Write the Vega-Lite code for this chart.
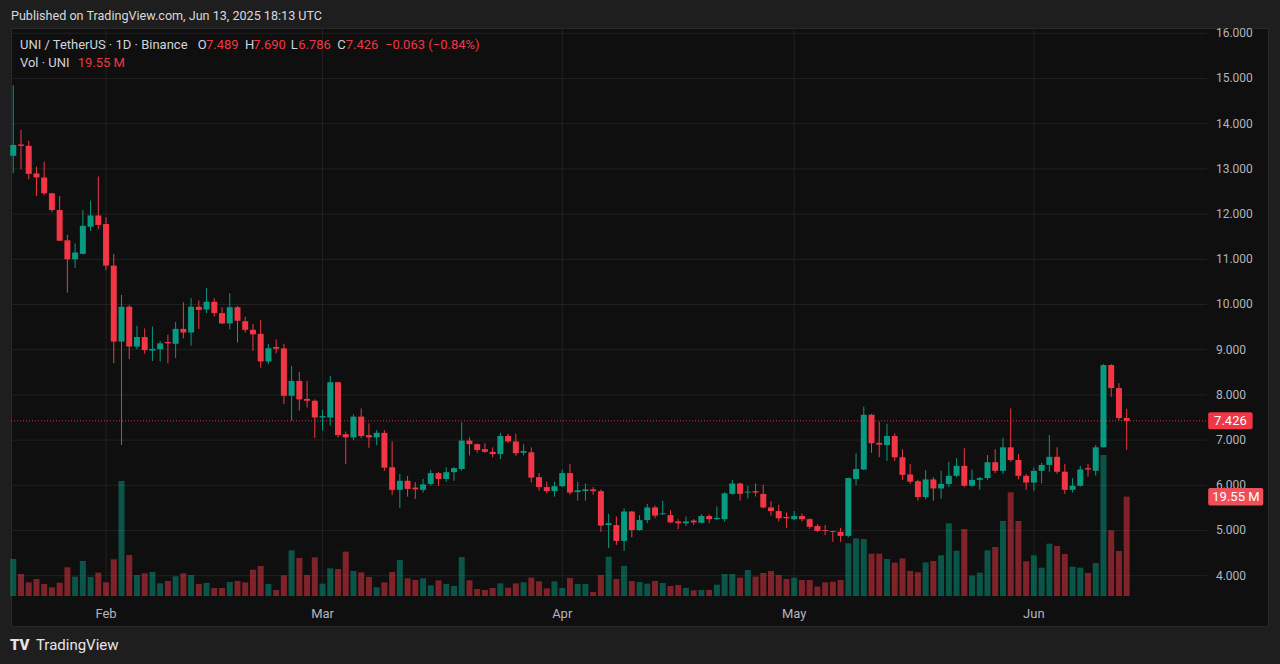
{
"$schema": "https://vega.github.io/schema/vega-lite/v6.json",
"width": 1257,
"height": 598,
"autosize": {"type": "none"},
"padding": {"left": 11, "top": 28, "right": 12, "bottom": 38},
"background": "#1e1e1e",
"config": {"font": "Roboto", "view": {"fill": "#0f0f0f", "stroke": "#2a2a2a", "strokeWidth": 1}, "scale": {"continuousPadding": 0}},
"datasets": {
"uni": [
{"d":"2025-01-20","o":13.29,"h":14.85,"l":12.90,"c":13.53,"v":7.28},
{"d":"2025-01-21","o":13.54,"h":13.86,"l":12.99,"c":13.51,"v":4.33},
{"d":"2025-01-22","o":13.51,"h":13.62,"l":12.77,"c":12.89,"v":2.69},
{"d":"2025-01-23","o":12.90,"h":13.05,"l":12.40,"c":12.81,"v":3.35},
{"d":"2025-01-24","o":12.81,"h":13.16,"l":12.42,"c":12.46,"v":2.36},
{"d":"2025-01-25","o":12.46,"h":12.47,"l":12.04,"c":12.09,"v":1.71},
{"d":"2025-01-26","o":12.09,"h":12.40,"l":11.41,"c":11.41,"v":2.62},
{"d":"2025-01-27","o":11.42,"h":11.54,"l":10.26,"c":11.00,"v":5.64},
{"d":"2025-01-28","o":11.00,"h":11.35,"l":10.81,"c":11.15,"v":3.81},
{"d":"2025-01-29","o":11.12,"h":12.09,"l":11.11,"c":11.74,"v":6.89},
{"d":"2025-01-30","o":11.72,"h":12.30,"l":11.63,"c":11.97,"v":3.74},
{"d":"2025-01-31","o":11.97,"h":12.83,"l":11.66,"c":11.76,"v":4.59},
{"d":"2025-02-01","o":11.78,"h":11.93,"l":10.76,"c":10.86,"v":2.69},
{"d":"2025-02-02","o":10.86,"h":11.12,"l":8.70,"c":9.18,"v":7.22},
{"d":"2025-02-03","o":9.18,"h":10.21,"l":6.89,"c":9.95,"v":22.64},
{"d":"2025-02-04","o":9.95,"h":9.99,"l":8.79,"c":9.07,"v":8.07},
{"d":"2025-02-05","o":9.07,"h":9.53,"l":9.01,"c":9.28,"v":4.13},
{"d":"2025-02-06","o":9.28,"h":9.47,"l":8.91,"c":8.99,"v":4.46},
{"d":"2025-02-07","o":8.98,"h":9.51,"l":8.75,"c":9.02,"v":4.72},
{"d":"2025-02-08","o":9.01,"h":9.19,"l":8.74,"c":9.14,"v":2.49},
{"d":"2025-02-09","o":9.17,"h":9.33,"l":8.70,"c":9.14,"v":2.95},
{"d":"2025-02-10","o":9.13,"h":9.61,"l":8.82,"c":9.46,"v":3.87},
{"d":"2025-02-11","o":9.46,"h":10.05,"l":9.25,"c":9.38,"v":4.46},
{"d":"2025-02-12","o":9.38,"h":10.14,"l":9.09,"c":9.95,"v":4.13},
{"d":"2025-02-13","o":9.95,"h":10.09,"l":9.46,"c":9.88,"v":2.36},
{"d":"2025-02-14","o":9.89,"h":10.36,"l":9.81,"c":10.06,"v":2.56},
{"d":"2025-02-15","o":10.06,"h":10.14,"l":9.73,"c":9.81,"v":1.57},
{"d":"2025-02-16","o":9.81,"h":9.94,"l":9.57,"c":9.58,"v":1.57},
{"d":"2025-02-17","o":9.58,"h":10.25,"l":9.45,"c":9.94,"v":2.76},
{"d":"2025-02-18","o":9.94,"h":9.97,"l":9.16,"c":9.64,"v":2.95},
{"d":"2025-02-19","o":9.63,"h":9.73,"l":9.38,"c":9.44,"v":2.69},
{"d":"2025-02-20","o":9.44,"h":9.57,"l":8.98,"c":9.34,"v":5.18},
{"d":"2025-02-21","o":9.35,"h":9.66,"l":8.60,"c":8.74,"v":5.91},
{"d":"2025-02-22","o":8.74,"h":9.13,"l":8.68,"c":9.03,"v":2.36},
{"d":"2025-02-23","o":9.06,"h":9.23,"l":8.92,"c":9.02,"v":1.18},
{"d":"2025-02-24","o":9.03,"h":9.13,"l":7.80,"c":7.98,"v":4.07},
{"d":"2025-02-25","o":7.98,"h":8.64,"l":7.43,"c":8.31,"v":9.00},
{"d":"2025-02-26","o":8.31,"h":8.51,"l":7.65,"c":7.90,"v":7.48},
{"d":"2025-02-27","o":7.91,"h":8.31,"l":7.72,"c":7.87,"v":4.13},
{"d":"2025-02-28","o":7.87,"h":7.90,"l":7.05,"c":7.50,"v":7.61},
{"d":"2025-03-01","o":7.50,"h":7.67,"l":7.21,"c":7.53,"v":2.43},
{"d":"2025-03-02","o":7.50,"h":8.42,"l":7.32,"c":8.28,"v":5.45},
{"d":"2025-03-03","o":8.28,"h":8.29,"l":7.06,"c":7.11,"v":5.31},
{"d":"2025-03-04","o":7.13,"h":7.19,"l":6.47,"c":7.06,"v":8.73},
{"d":"2025-03-05","o":7.06,"h":7.57,"l":7.00,"c":7.52,"v":4.92},
{"d":"2025-03-06","o":7.52,"h":7.70,"l":7.04,"c":7.09,"v":4.66},
{"d":"2025-03-07","o":7.11,"h":7.37,"l":6.83,"c":7.06,"v":3.74},
{"d":"2025-03-08","o":7.06,"h":7.22,"l":6.89,"c":7.16,"v":1.71},
{"d":"2025-03-09","o":7.16,"h":7.22,"l":6.32,"c":6.39,"v":2.69},
{"d":"2025-03-10","o":6.40,"h":6.97,"l":5.79,"c":5.90,"v":4.72},
{"d":"2025-03-11","o":5.90,"h":6.25,"l":5.50,"c":6.10,"v":7.09},
{"d":"2025-03-12","o":6.10,"h":6.21,"l":5.75,"c":5.92,"v":3.48},
{"d":"2025-03-13","o":5.95,"h":6.07,"l":5.70,"c":5.91,"v":3.15},
{"d":"2025-03-14","o":5.90,"h":6.14,"l":5.84,"c":6.02,"v":3.48},
{"d":"2025-03-15","o":6.03,"h":6.34,"l":5.99,"c":6.27,"v":2.10},
{"d":"2025-03-16","o":6.27,"h":6.30,"l":5.99,"c":6.14,"v":3.08},
{"d":"2025-03-17","o":6.14,"h":6.40,"l":6.08,"c":6.29,"v":2.36},
{"d":"2025-03-18","o":6.29,"h":6.40,"l":6.10,"c":6.38,"v":1.97},
{"d":"2025-03-19","o":6.36,"h":7.39,"l":6.32,"c":6.99,"v":7.68},
{"d":"2025-03-20","o":6.99,"h":7.06,"l":6.66,"c":6.91,"v":3.08},
{"d":"2025-03-21","o":6.91,"h":6.93,"l":6.72,"c":6.78,"v":1.38},
{"d":"2025-03-22","o":6.80,"h":6.93,"l":6.72,"c":6.74,"v":1.18},
{"d":"2025-03-23","o":6.74,"h":6.84,"l":6.62,"c":6.69,"v":1.57},
{"d":"2025-03-24","o":6.69,"h":7.16,"l":6.58,"c":7.09,"v":2.49},
{"d":"2025-03-25","o":7.09,"h":7.14,"l":6.94,"c":6.97,"v":1.64},
{"d":"2025-03-26","o":6.97,"h":7.14,"l":6.65,"c":6.71,"v":2.49},
{"d":"2025-03-27","o":6.72,"h":6.91,"l":6.66,"c":6.76,"v":2.69},
{"d":"2025-03-28","o":6.73,"h":6.84,"l":6.06,"c":6.17,"v":3.61},
{"d":"2025-03-29","o":6.18,"h":6.27,"l":5.88,"c":5.96,"v":2.89},
{"d":"2025-03-30","o":5.96,"h":6.08,"l":5.82,"c":5.87,"v":1.51},
{"d":"2025-03-31","o":5.87,"h":6.08,"l":5.75,"c":5.98,"v":2.89},
{"d":"2025-04-01","o":5.98,"h":6.35,"l":5.96,"c":6.27,"v":1.57},
{"d":"2025-04-02","o":6.27,"h":6.47,"l":5.79,"c":5.84,"v":3.54},
{"d":"2025-04-03","o":5.85,"h":6.08,"l":5.66,"c":5.89,"v":2.36},
{"d":"2025-04-04","o":5.87,"h":6.04,"l":5.66,"c":5.91,"v":2.36},
{"d":"2025-04-05","o":5.91,"h":5.96,"l":5.79,"c":5.87,"v":0.79},
{"d":"2025-04-06","o":5.87,"h":5.91,"l":4.97,"c":5.11,"v":4.13},
{"d":"2025-04-07","o":5.12,"h":5.37,"l":4.61,"c":5.16,"v":7.74},
{"d":"2025-04-08","o":5.12,"h":5.31,"l":4.68,"c":4.77,"v":3.35},
{"d":"2025-04-09","o":4.77,"h":5.49,"l":4.55,"c":5.42,"v":5.91},
{"d":"2025-04-10","o":5.42,"h":5.43,"l":4.85,"c":5.01,"v":2.95},
{"d":"2025-04-11","o":5.01,"h":5.34,"l":4.99,"c":5.23,"v":2.76},
{"d":"2025-04-12","o":5.23,"h":5.59,"l":5.16,"c":5.51,"v":2.43},
{"d":"2025-04-13","o":5.51,"h":5.55,"l":5.27,"c":5.33,"v":2.95},
{"d":"2025-04-14","o":5.36,"h":5.66,"l":5.34,"c":5.38,"v":2.56},
{"d":"2025-04-15","o":5.34,"h":5.45,"l":5.16,"c":5.18,"v":1.97},
{"d":"2025-04-16","o":5.20,"h":5.25,"l":5.03,"c":5.16,"v":2.17},
{"d":"2025-04-17","o":5.16,"h":5.31,"l":5.10,"c":5.20,"v":1.57},
{"d":"2025-04-18","o":5.22,"h":5.25,"l":5.12,"c":5.18,"v":1.12},
{"d":"2025-04-19","o":5.17,"h":5.36,"l":5.16,"c":5.32,"v":1.18},
{"d":"2025-04-20","o":5.32,"h":5.36,"l":5.16,"c":5.25,"v":1.18},
{"d":"2025-04-21","o":5.25,"h":5.53,"l":5.23,"c":5.28,"v":2.23},
{"d":"2025-04-22","o":5.25,"h":5.85,"l":5.20,"c":5.82,"v":4.33},
{"d":"2025-04-23","o":5.81,"h":6.12,"l":5.79,"c":6.04,"v":4.33},
{"d":"2025-04-24","o":6.04,"h":6.06,"l":5.66,"c":5.81,"v":3.61},
{"d":"2025-04-25","o":5.84,"h":5.99,"l":5.71,"c":5.86,"v":5.12},
{"d":"2025-04-26","o":5.87,"h":6.04,"l":5.75,"c":5.84,"v":3.81},
{"d":"2025-04-27","o":5.81,"h":6.01,"l":5.49,"c":5.51,"v":4.53},
{"d":"2025-04-28","o":5.51,"h":5.65,"l":5.33,"c":5.43,"v":4.92},
{"d":"2025-04-29","o":5.43,"h":5.57,"l":5.20,"c":5.27,"v":4.13},
{"d":"2025-04-30","o":5.30,"h":5.40,"l":5.06,"c":5.27,"v":3.35},
{"d":"2025-05-01","o":5.25,"h":5.43,"l":5.23,"c":5.32,"v":3.61},
{"d":"2025-05-02","o":5.32,"h":5.38,"l":5.20,"c":5.25,"v":3.15},
{"d":"2025-05-03","o":5.25,"h":5.27,"l":5.03,"c":5.08,"v":3.15},
{"d":"2025-05-04","o":5.10,"h":5.14,"l":4.97,"c":4.99,"v":1.84},
{"d":"2025-05-05","o":5.01,"h":5.12,"l":4.90,"c":4.99,"v":2.69},
{"d":"2025-05-06","o":4.99,"h":4.99,"l":4.75,"c":4.97,"v":2.82},
{"d":"2025-05-07","o":4.97,"h":5.06,"l":4.75,"c":4.88,"v":3.15},
{"d":"2025-05-08","o":4.88,"h":6.17,"l":4.85,"c":6.16,"v":10.37},
{"d":"2025-05-09","o":6.14,"h":6.71,"l":6.01,"c":6.36,"v":11.35},
{"d":"2025-05-10","o":6.35,"h":7.74,"l":6.34,"c":7.56,"v":11.22},
{"d":"2025-05-11","o":7.56,"h":7.58,"l":6.72,"c":6.93,"v":8.33},
{"d":"2025-05-12","o":6.94,"h":7.41,"l":6.62,"c":6.90,"v":8.33},
{"d":"2025-05-13","o":6.89,"h":7.36,"l":6.54,"c":7.09,"v":7.28},
{"d":"2025-05-14","o":7.09,"h":7.15,"l":6.54,"c":6.62,"v":6.56},
{"d":"2025-05-15","o":6.62,"h":6.80,"l":6.12,"c":6.23,"v":7.41},
{"d":"2025-05-16","o":6.24,"h":6.47,"l":6.03,"c":6.08,"v":4.92},
{"d":"2025-05-17","o":6.09,"h":6.12,"l":5.66,"c":5.74,"v":4.66},
{"d":"2025-05-18","o":5.74,"h":6.34,"l":5.69,"c":6.13,"v":6.63},
{"d":"2025-05-19","o":6.13,"h":6.18,"l":5.66,"c":5.93,"v":6.89},
{"d":"2025-05-20","o":5.93,"h":6.32,"l":5.70,"c":6.03,"v":8.01},
{"d":"2025-05-21","o":6.03,"h":6.52,"l":5.96,"c":6.21,"v":14.30},
{"d":"2025-05-22","o":6.21,"h":6.60,"l":6.18,"c":6.43,"v":8.92},
{"d":"2025-05-23","o":6.43,"h":6.82,"l":5.96,"c":5.99,"v":13.19},
{"d":"2025-05-24","o":5.99,"h":6.35,"l":5.96,"c":6.12,"v":4.00},
{"d":"2025-05-25","o":6.12,"h":6.18,"l":5.90,"c":6.16,"v":4.59},
{"d":"2025-05-26","o":6.16,"h":6.67,"l":6.12,"c":6.51,"v":9.00},
{"d":"2025-05-27","o":6.51,"h":6.80,"l":6.27,"c":6.32,"v":9.65},
{"d":"2025-05-28","o":6.32,"h":7.05,"l":6.25,"c":6.84,"v":14.76},
{"d":"2025-05-29","o":6.84,"h":7.70,"l":6.52,"c":6.56,"v":20.41},
{"d":"2025-05-30","o":6.56,"h":6.69,"l":6.13,"c":6.21,"v":14.76},
{"d":"2025-05-31","o":6.21,"h":6.25,"l":5.90,"c":6.06,"v":6.83},
{"d":"2025-06-01","o":6.06,"h":6.39,"l":5.88,"c":6.32,"v":8.01},
{"d":"2025-06-02","o":6.32,"h":6.50,"l":6.04,"c":6.45,"v":5.58},
{"d":"2025-06-03","o":6.45,"h":7.11,"l":6.30,"c":6.63,"v":10.30},
{"d":"2025-06-04","o":6.63,"h":6.84,"l":6.25,"c":6.30,"v":9.84},
{"d":"2025-06-05","o":6.30,"h":6.47,"l":5.81,"c":5.90,"v":8.27},
{"d":"2025-06-06","o":5.90,"h":6.16,"l":5.84,"c":5.99,"v":5.77},
{"d":"2025-06-07","o":5.99,"h":6.43,"l":5.97,"c":6.35,"v":5.58},
{"d":"2025-06-08","o":6.38,"h":6.47,"l":6.19,"c":6.35,"v":4.53},
{"d":"2025-06-09","o":6.32,"h":6.89,"l":6.21,"c":6.84,"v":6.50},
{"d":"2025-06-10","o":6.84,"h":8.68,"l":6.84,"c":8.66,"v":27.76},
{"d":"2025-06-11","o":8.66,"h":8.68,"l":7.96,"c":8.15,"v":12.93},
{"d":"2025-06-12","o":8.15,"h":8.26,"l":7.44,"c":7.489,"v":8.86},
{"d":"2025-06-13","o":7.489,"h":7.690,"l":6.786,"c":7.426,"v":19.55}
],
"months": [{"d":"2025-02-01"},{"d":"2025-03-01"},{"d":"2025-04-01"},{"d":"2025-05-01"},{"d":"2025-06-01"}],
"levels": [{"p":4},{"p":5},{"p":6},{"p":7},{"p":8},{"p":9},{"p":10},{"p":11},{"p":12},{"p":13},{"p":14},{"p":15},{"p":16}]
},
"layer": [
{
"layer": [
{"data": {"name": "levels"}, "mark": {"type": "rule", "color": "#222222", "strokeWidth": 1},
 "encoding": {
  "x": {"datum": {"year":2025,"month":1,"date":19,"hours":17,"utc":true}, "type": "temporal", "scale": {"type":"utc","nice":false,"domain":[{"year":2025,"month":1,"date":19,"hours":17,"utc":true},{"year":2025,"month":7,"date":1,"hours":6,"minutes":40,"utc":true}]}, "axis": null},
  "x2": {"datum": {"year":2025,"month":6,"date":23,"hours":9,"utc":true}},
  "y": {"field": "p", "type": "quantitative", "scale": {"domain":[2.887,16.117],"zero":false,"nice":false}, "axis": null}}},
{"data": {"name": "months"}, "mark": {"type": "rule", "color": "#222222", "strokeWidth": 1},
 "encoding": {
  "x": {"field": "d", "type": "temporal", "scale": {"type":"utc","nice":false,"domain":[{"year":2025,"month":1,"date":19,"hours":17,"utc":true},{"year":2025,"month":7,"date":1,"hours":6,"minutes":40,"utc":true}]}, "axis": null},
  "y": {"datum": 3.551, "type": "quantitative", "scale": {"domain":[2.887,16.117],"zero":false,"nice":false}, "axis": null},
  "y2": {"datum": 16.117}}},
{"data": {"name": "levels"}, "mark": {"type": "text", "color": "#b2b5be", "fontSize": 12, "align": "left", "baseline": "middle", "dx": 9},
 "encoding": {
  "text": {"field": "p", "type": "quantitative", "format": ".3f"},
  "x": {"datum": {"year":2025,"month":6,"date":23,"hours":9,"utc":true}, "type": "temporal", "scale": {"type":"utc","nice":false,"domain":[{"year":2025,"month":1,"date":19,"hours":17,"utc":true},{"year":2025,"month":7,"date":1,"hours":6,"minutes":40,"utc":true}]}, "axis": null},
  "y": {"field": "p", "type": "quantitative", "scale": {"domain":[2.887,16.117],"zero":false,"nice":false}, "axis": null}}},
{"data": {"name": "months"}, "mark": {"type": "text", "color": "#b2b5be", "fontSize": 13, "align": "center", "baseline": "middle"},
 "encoding": {
  "text": {"field": "d", "type": "temporal", "timeUnit": "utcmonth", "format": "%b"},
  "x": {"field": "d", "type": "temporal", "scale": {"type":"utc","nice":false,"domain":[{"year":2025,"month":1,"date":19,"hours":17,"utc":true},{"year":2025,"month":7,"date":1,"hours":6,"minutes":40,"utc":true}]}, "axis": null},
  "y": {"datum": 3.153, "type": "quantitative", "scale": {"domain":[2.887,16.117],"zero":false,"nice":false}, "axis": null}}},
{"data": {"values": [{}]}, "mark": {"type": "rule", "color": "#f23645", "strokeWidth": 1, "strokeDash": [1, 2], "opacity": 0.9},
 "encoding": {
  "x": {"datum": {"year":2025,"month":1,"date":19,"hours":17,"utc":true}, "type": "temporal", "scale": {"type":"utc","nice":false,"domain":[{"year":2025,"month":1,"date":19,"hours":17,"utc":true},{"year":2025,"month":7,"date":1,"hours":6,"minutes":40,"utc":true}]}, "axis": null},
  "x2": {"datum": {"year":2025,"month":6,"date":23,"hours":13,"utc":true}},
  "y": {"datum": 7.426, "type": "quantitative", "scale": {"domain":[2.887,16.117],"zero":false,"nice":false}, "axis": null}}}
]
},
{
"layer": [
{"data": {"name": "uni"}, "mark": {"type": "bar", "size": 6, "opacity": 0.5},
 "encoding": {
  "x": {"field": "d", "type": "temporal", "scale": {"type":"utc","nice":false,"domain":[{"year":2025,"month":1,"date":19,"hours":17,"utc":true},{"year":2025,"month":7,"date":1,"hours":6,"minutes":40,"utc":true}]}, "axis": null},
  "y": {"field": "v", "type": "quantitative", "scale": {"domain":[-5.906,111.8],"zero":false,"nice":false}, "axis": null},
  "y2": {"datum": 0},
  "color": {"condition": {"test": "datum.c >= datum.o", "value": "#089981"}, "value": "#f23645"}}},
{"data": {"values": [{}]}, "mark": {"type": "rect", "color": "#ef4f5a", "cornerRadius": 2},
 "encoding": {
  "x": {"datum": {"year":2025,"month":6,"date":23,"hours":13,"utc":true}, "type": "temporal", "scale": {"type":"utc","nice":false,"domain":[{"year":2025,"month":1,"date":19,"hours":17,"utc":true},{"year":2025,"month":7,"date":1,"hours":6,"minutes":40,"utc":true}]}, "axis": null},
  "x2": {"datum": {"year":2025,"month":6,"date":30,"hours":16,"utc":true}},
  "y": {"datum": 17.83, "type": "quantitative", "scale": {"domain":[-5.906,111.8],"zero":false,"nice":false}, "axis": null},
  "y2": {"datum": 21.27}}},
{"data": {"values": [{}]}, "mark": {"type": "text", "text": "19.55 M", "color": "#ffffff", "fontSize": 13, "align": "center", "baseline": "middle"},
 "encoding": {
  "x": {"datum": {"year":2025,"month":6,"date":27,"hours":3,"utc":true}, "type": "temporal", "scale": {"type":"utc","nice":false,"domain":[{"year":2025,"month":1,"date":19,"hours":17,"utc":true},{"year":2025,"month":7,"date":1,"hours":6,"minutes":40,"utc":true}]}, "axis": null},
  "y": {"datum": 19.55, "type": "quantitative", "scale": {"domain":[-5.906,111.8],"zero":false,"nice":false}, "axis": null}}}
]
},
{
"layer": [
{"data": {"name": "uni"}, "mark": {"type": "rule", "strokeWidth": 1},
 "encoding": {
  "x": {"field": "d", "type": "temporal", "scale": {"type":"utc","nice":false,"domain":[{"year":2025,"month":1,"date":19,"hours":17,"utc":true},{"year":2025,"month":7,"date":1,"hours":6,"minutes":40,"utc":true}]}, "axis": null},
  "y": {"field": "l", "type": "quantitative", "scale": {"domain":[2.887,16.117],"zero":false,"nice":false}, "axis": null},
  "y2": {"field": "h"},
  "color": {"condition": {"test": "datum.c >= datum.o", "value": "#089981"}, "value": "#f23645"}}},
{"data": {"name": "uni"}, "mark": {"type": "bar", "size": 6},
 "encoding": {
  "x": {"field": "d", "type": "temporal", "scale": {"type":"utc","nice":false,"domain":[{"year":2025,"month":1,"date":19,"hours":17,"utc":true},{"year":2025,"month":7,"date":1,"hours":6,"minutes":40,"utc":true}]}, "axis": null},
  "y": {"field": "o", "type": "quantitative", "scale": {"domain":[2.887,16.117],"zero":false,"nice":false}, "axis": null},
  "y2": {"field": "c"},
  "color": {"condition": {"test": "datum.c >= datum.o", "value": "#089981"}, "value": "#f23645"}}},
{"data": {"values": [{}]}, "mark": {"type": "rect", "color": "#f23645", "cornerRadius": 2},
 "encoding": {
  "x": {"datum": {"year":2025,"month":6,"date":23,"hours":13,"utc":true}, "type": "temporal", "scale": {"type":"utc","nice":false,"domain":[{"year":2025,"month":1,"date":19,"hours":17,"utc":true},{"year":2025,"month":7,"date":1,"hours":6,"minutes":40,"utc":true}]}, "axis": null},
  "x2": {"datum": {"year":2025,"month":6,"date":29,"hours":7,"utc":true}},
  "y": {"datum": 7.238, "type": "quantitative", "scale": {"domain":[2.887,16.117],"zero":false,"nice":false}, "axis": null},
  "y2": {"datum": 7.614}}},
{"data": {"values": [{}]}, "mark": {"type": "text", "text": "7.426", "color": "#ffffff", "fontSize": 13, "align": "center", "baseline": "middle"},
 "encoding": {
  "x": {"datum": {"year":2025,"month":6,"date":26,"hours":10,"utc":true}, "type": "temporal", "scale": {"type":"utc","nice":false,"domain":[{"year":2025,"month":1,"date":19,"hours":17,"utc":true},{"year":2025,"month":7,"date":1,"hours":6,"minutes":40,"utc":true}]}, "axis": null},
  "y": {"datum": 7.426, "type": "quantitative", "scale": {"domain":[2.887,16.117],"zero":false,"nice":false}, "axis": null}}},
{"data": {"values": [{}]}, "mark": {"type": "text", "text": "Published on TradingView.com, Jun 13, 2025 18:13 UTC", "color": "#d9d9d9", "fontSize": 12.6, "align": "left", "baseline": "middle", "dx": -2.3},
 "encoding": {
  "x": {"datum": {"year":2025,"month":1,"date":20,"utc":true}, "type": "temporal", "scale": {"type":"utc","nice":false,"domain":[{"year":2025,"month":1,"date":19,"hours":17,"utc":true},{"year":2025,"month":7,"date":1,"hours":6,"minutes":40,"utc":true}]}, "axis": null},
  "y": {"datum": 16.383, "type": "quantitative", "scale": {"domain":[2.887,16.117],"zero":false,"nice":false}, "axis": null}}},
{"data": {"values": [{}]}, "mark": {"type": "text", "text": "UNI / TetherUS · 1D · Binance", "color": "#d1d4dc", "fontSize": 13, "align": "left", "baseline": "middle", "dx": 6.7},
 "encoding": {
  "x": {"datum": {"year":2025,"month":1,"date":20,"utc":true}, "type": "temporal", "scale": {"type":"utc","nice":false,"domain":[{"year":2025,"month":1,"date":19,"hours":17,"utc":true},{"year":2025,"month":7,"date":1,"hours":6,"minutes":40,"utc":true}]}, "axis": null},
  "y": {"datum": 15.741, "type": "quantitative", "scale": {"domain":[2.887,16.117],"zero":false,"nice":false}, "axis": null}}},
{"data": {"values": [{}]}, "mark": {"type": "text", "text": "O", "color": "#d1d4dc", "fontSize": 13, "align": "left", "baseline": "middle", "dx": 184.4},
 "encoding": {
  "x": {"datum": {"year":2025,"month":1,"date":20,"utc":true}, "type": "temporal", "scale": {"type":"utc","nice":false,"domain":[{"year":2025,"month":1,"date":19,"hours":17,"utc":true},{"year":2025,"month":7,"date":1,"hours":6,"minutes":40,"utc":true}]}, "axis": null},
  "y": {"datum": 15.741, "type": "quantitative", "scale": {"domain":[2.887,16.117],"zero":false,"nice":false}, "axis": null}}},
{"data": {"values": [{}]}, "mark": {"type": "text", "text": "7.489", "color": "#f23645", "fontSize": 13, "align": "left", "baseline": "middle", "dx": 192.7},
 "encoding": {
  "x": {"datum": {"year":2025,"month":1,"date":20,"utc":true}, "type": "temporal", "scale": {"type":"utc","nice":false,"domain":[{"year":2025,"month":1,"date":19,"hours":17,"utc":true},{"year":2025,"month":7,"date":1,"hours":6,"minutes":40,"utc":true}]}, "axis": null},
  "y": {"datum": 15.741, "type": "quantitative", "scale": {"domain":[2.887,16.117],"zero":false,"nice":false}, "axis": null}}},
{"data": {"values": [{}]}, "mark": {"type": "text", "text": "H", "color": "#d1d4dc", "fontSize": 13, "align": "left", "baseline": "middle", "dx": 231.7},
 "encoding": {
  "x": {"datum": {"year":2025,"month":1,"date":20,"utc":true}, "type": "temporal", "scale": {"type":"utc","nice":false,"domain":[{"year":2025,"month":1,"date":19,"hours":17,"utc":true},{"year":2025,"month":7,"date":1,"hours":6,"minutes":40,"utc":true}]}, "axis": null},
  "y": {"datum": 15.741, "type": "quantitative", "scale": {"domain":[2.887,16.117],"zero":false,"nice":false}, "axis": null}}},
{"data": {"values": [{}]}, "mark": {"type": "text", "text": "7.690", "color": "#f23645", "fontSize": 13, "align": "left", "baseline": "middle", "dx": 240},
 "encoding": {
  "x": {"datum": {"year":2025,"month":1,"date":20,"utc":true}, "type": "temporal", "scale": {"type":"utc","nice":false,"domain":[{"year":2025,"month":1,"date":19,"hours":17,"utc":true},{"year":2025,"month":7,"date":1,"hours":6,"minutes":40,"utc":true}]}, "axis": null},
  "y": {"datum": 15.741, "type": "quantitative", "scale": {"domain":[2.887,16.117],"zero":false,"nice":false}, "axis": null}}},
{"data": {"values": [{}]}, "mark": {"type": "text", "text": "L", "color": "#d1d4dc", "fontSize": 13, "align": "left", "baseline": "middle", "dx": 277.4},
 "encoding": {
  "x": {"datum": {"year":2025,"month":1,"date":20,"utc":true}, "type": "temporal", "scale": {"type":"utc","nice":false,"domain":[{"year":2025,"month":1,"date":19,"hours":17,"utc":true},{"year":2025,"month":7,"date":1,"hours":6,"minutes":40,"utc":true}]}, "axis": null},
  "y": {"datum": 15.741, "type": "quantitative", "scale": {"domain":[2.887,16.117],"zero":false,"nice":false}, "axis": null}}},
{"data": {"values": [{}]}, "mark": {"type": "text", "text": "6.786", "color": "#f23645", "fontSize": 13, "align": "left", "baseline": "middle", "dx": 285},
 "encoding": {
  "x": {"datum": {"year":2025,"month":1,"date":20,"utc":true}, "type": "temporal", "scale": {"type":"utc","nice":false,"domain":[{"year":2025,"month":1,"date":19,"hours":17,"utc":true},{"year":2025,"month":7,"date":1,"hours":6,"minutes":40,"utc":true}]}, "axis": null},
  "y": {"datum": 15.741, "type": "quantitative", "scale": {"domain":[2.887,16.117],"zero":false,"nice":false}, "axis": null}}},
{"data": {"values": [{}]}, "mark": {"type": "text", "text": "C", "color": "#d1d4dc", "fontSize": 13, "align": "left", "baseline": "middle", "dx": 324},
 "encoding": {
  "x": {"datum": {"year":2025,"month":1,"date":20,"utc":true}, "type": "temporal", "scale": {"type":"utc","nice":false,"domain":[{"year":2025,"month":1,"date":19,"hours":17,"utc":true},{"year":2025,"month":7,"date":1,"hours":6,"minutes":40,"utc":true}]}, "axis": null},
  "y": {"datum": 15.741, "type": "quantitative", "scale": {"domain":[2.887,16.117],"zero":false,"nice":false}, "axis": null}}},
{"data": {"values": [{}]}, "mark": {"type": "text", "text": "7.426", "color": "#f23645", "fontSize": 13, "align": "left", "baseline": "middle", "dx": 332.4},
 "encoding": {
  "x": {"datum": {"year":2025,"month":1,"date":20,"utc":true}, "type": "temporal", "scale": {"type":"utc","nice":false,"domain":[{"year":2025,"month":1,"date":19,"hours":17,"utc":true},{"year":2025,"month":7,"date":1,"hours":6,"minutes":40,"utc":true}]}, "axis": null},
  "y": {"datum": 15.741, "type": "quantitative", "scale": {"domain":[2.887,16.117],"zero":false,"nice":false}, "axis": null}}},
{"data": {"values": [{}]}, "mark": {"type": "text", "text": "−0.063 (−0.84%)", "color": "#f23645", "fontSize": 13, "align": "left", "baseline": "middle", "dx": 371.7},
 "encoding": {
  "x": {"datum": {"year":2025,"month":1,"date":20,"utc":true}, "type": "temporal", "scale": {"type":"utc","nice":false,"domain":[{"year":2025,"month":1,"date":19,"hours":17,"utc":true},{"year":2025,"month":7,"date":1,"hours":6,"minutes":40,"utc":true}]}, "axis": null},
  "y": {"datum": 15.741, "type": "quantitative", "scale": {"domain":[2.887,16.117],"zero":false,"nice":false}, "axis": null}}},
{"data": {"values": [{}]}, "mark": {"type": "text", "text": "Vol · UNI", "color": "#d1d4dc", "fontSize": 13, "align": "left", "baseline": "middle", "dx": 6.7},
 "encoding": {
  "x": {"datum": {"year":2025,"month":1,"date":20,"utc":true}, "type": "temporal", "scale": {"type":"utc","nice":false,"domain":[{"year":2025,"month":1,"date":19,"hours":17,"utc":true},{"year":2025,"month":7,"date":1,"hours":6,"minutes":40,"utc":true}]}, "axis": null},
  "y": {"datum": 15.35, "type": "quantitative", "scale": {"domain":[2.887,16.117],"zero":false,"nice":false}, "axis": null}}},
{"data": {"values": [{}]}, "mark": {"type": "text", "text": "19.55 M", "color": "#f23645", "fontSize": 13, "align": "left", "baseline": "middle", "dx": 64.4},
 "encoding": {
  "x": {"datum": {"year":2025,"month":1,"date":20,"utc":true}, "type": "temporal", "scale": {"type":"utc","nice":false,"domain":[{"year":2025,"month":1,"date":19,"hours":17,"utc":true},{"year":2025,"month":7,"date":1,"hours":6,"minutes":40,"utc":true}]}, "axis": null},
  "y": {"datum": 15.35, "type": "quantitative", "scale": {"domain":[2.887,16.117],"zero":false,"nice":false}, "axis": null}}},
{"data": {"values": [{}]}, "mark": {"type": "text", "text": "TV", "color": "#e6e6e6", "fontSize": 15, "fontWeight": 900, "align": "left", "baseline": "middle", "dx": -3.3},
 "encoding": {
  "x": {"datum": {"year":2025,"month":1,"date":20,"utc":true}, "type": "temporal", "scale": {"type":"utc","nice":false,"domain":[{"year":2025,"month":1,"date":19,"hours":17,"utc":true},{"year":2025,"month":7,"date":1,"hours":6,"minutes":40,"utc":true}]}, "axis": null},
  "y": {"datum": 2.467, "type": "quantitative", "scale": {"domain":[2.887,16.117],"zero":false,"nice":false}, "axis": null}}},
{"data": {"values": [{}]}, "mark": {"type": "text", "text": "TradingView", "color": "#e6e6e6", "fontSize": 15, "align": "left", "baseline": "middle", "dx": 22.7},
 "encoding": {
  "x": {"datum": {"year":2025,"month":1,"date":20,"utc":true}, "type": "temporal", "scale": {"type":"utc","nice":false,"domain":[{"year":2025,"month":1,"date":19,"hours":17,"utc":true},{"year":2025,"month":7,"date":1,"hours":6,"minutes":40,"utc":true}]}, "axis": null},
  "y": {"datum": 2.467, "type": "quantitative", "scale": {"domain":[2.887,16.117],"zero":false,"nice":false}, "axis": null}}}
]
}
],
"resolve": {"scale": {"y": "independent"}}
}
